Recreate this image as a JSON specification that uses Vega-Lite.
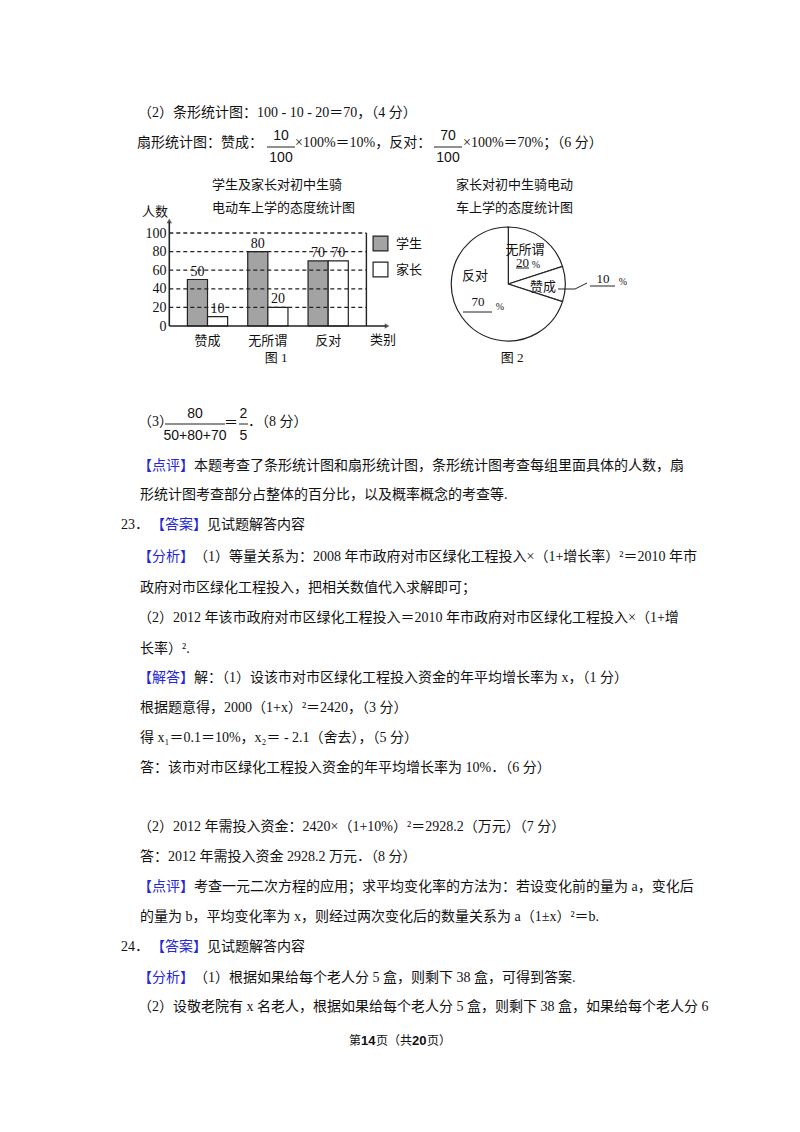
{
  "$schema": "https://vega.github.io/schema/vega-lite/v6.json",
  "width": 800,
  "height": 1132,
  "autosize": {"type": "fit", "contains": "padding"},
  "padding": 0,
  "background": "white",
  "config": {
    "view": {"stroke": null},
    "text": {"font": "Liberation Serif, Noto Sans CJK SC", "color": "#111111"}
  },
  "datasets": {
    "page": [
      {"role": "body", "x": 138, "y": 113, "text": "（2）条形统计图：100 - 10 - 20＝70，（4 分）"},
      {"role": "body", "x": 137, "y": 143, "text": "扇形统计图：赞成："},
      {"role": "body", "x": 295, "y": 143, "text": "×100%＝10%，反对："},
      {"role": "body", "x": 463, "y": 143, "text": "×100%＝70%；（6 分）"},
      {"role": "frac", "x": 281, "y": 136, "text": "10"},
      {"role": "frac", "x": 281, "y": 158, "text": "100"},
      {"role": "frac", "x": 448, "y": 136, "text": "70"},
      {"role": "frac", "x": 448, "y": 158, "text": "100"},
      {"role": "chart", "x": 212, "y": 185, "text": "学生及家长对初中生骑"},
      {"role": "chart", "x": 212, "y": 208, "text": "电动车上学的态度统计图"},
      {"role": "chart", "x": 456, "y": 185, "text": "家长对初中生骑电动"},
      {"role": "chart", "x": 456, "y": 208, "text": "车上学的态度统计图"},
      {"role": "chart", "x": 142, "y": 212, "text": "人数"},
      {"role": "chart", "x": 370, "y": 340, "text": "类别"},
      {"role": "chartc", "x": 276, "y": 358, "text": "图 1"},
      {"role": "chartc", "x": 512, "y": 358, "text": "图 2"},
      {"role": "chartc", "x": 475, "y": 276, "text": "反对"},
      {"role": "chartc", "x": 525, "y": 250, "text": "无所谓"},
      {"role": "chartc", "x": 543, "y": 287, "text": "赞成"},
      {"role": "chartc", "x": 522.5, "y": 263, "text": "20"},
      {"role": "chartc", "x": 478, "y": 302, "text": "70"},
      {"role": "chartc", "x": 603, "y": 279, "text": "10"},
      {"role": "pct", "x": 536, "y": 265, "text": "%"},
      {"role": "pct", "x": 500, "y": 307, "text": "%"},
      {"role": "pct", "x": 623, "y": 282, "text": "%"},
      {"role": "body", "x": 138, "y": 422, "text": "（3）"},
      {"role": "frac", "x": 195, "y": 414, "text": "80"},
      {"role": "frac", "x": 195, "y": 436, "text": "50+80+70"},
      {"role": "body", "x": 224, "y": 423, "text": "＝"},
      {"role": "frac", "x": 243.5, "y": 414, "text": "2"},
      {"role": "frac", "x": 243.5, "y": 436, "text": "5"},
      {"role": "body", "x": 248, "y": 422, "text": "．（8 分）"},
      {"role": "tag", "x": 138, "y": 466, "text": "【点评】"},
      {"role": "body", "x": 194, "y": 466, "text": "本题考查了条形统计图和扇形统计图，条形统计图考查每组里面具体的人数，扇"},
      {"role": "body", "x": 140, "y": 495, "text": "形统计图考查部分占整体的百分比，以及概率概念的考查等."},
      {"role": "body", "x": 121, "y": 525, "text": "23．"},
      {"role": "tag", "x": 151, "y": 525, "text": "【答案】"},
      {"role": "body", "x": 207, "y": 525, "text": "见试题解答内容"},
      {"role": "tag", "x": 138, "y": 557, "text": "【分析】"},
      {"role": "body", "x": 194, "y": 557, "text": "（1）等量关系为：2008 年市政府对市区绿化工程投入×（1+增长率）²＝2010 年市"},
      {"role": "body", "x": 140, "y": 588, "text": "政府对市区绿化工程投入，把相关数值代入求解即可；"},
      {"role": "body", "x": 138, "y": 618, "text": "（2）2012 年该市政府对市区绿化工程投入＝2010 年市政府对市区绿化工程投入×（1+增"},
      {"role": "body", "x": 140, "y": 649, "text": "长率）²."},
      {"role": "tag", "x": 138, "y": 678, "text": "【解答】"},
      {"role": "body", "x": 194, "y": 678, "text": "解：（1）设该市对市区绿化工程投入资金的年平均增长率为 x，（1 分）"},
      {"role": "body", "x": 140, "y": 708, "text": "根据题意得，2000（1+x）²＝2420，（3 分）"},
      {"role": "body", "x": 140, "y": 738, "text": "得 x₁＝0.1＝10%，x₂＝ - 2.1（舍去），（5 分）"},
      {"role": "body", "x": 140, "y": 768, "text": "答：该市对市区绿化工程投入资金的年平均增长率为 10%．（6 分）"},
      {"role": "body", "x": 138, "y": 827, "text": "（2）2012 年需投入资金：2420×（1+10%）²＝2928.2（万元）（7 分）"},
      {"role": "body", "x": 140, "y": 857, "text": "答：2012 年需投入资金 2928.2 万元．（8 分）"},
      {"role": "tag", "x": 138, "y": 887, "text": "【点评】"},
      {"role": "body", "x": 194, "y": 887, "text": "考查一元二次方程的应用；求平均变化率的方法为：若设变化前的量为 a，变化后"},
      {"role": "body", "x": 140, "y": 917, "text": "的量为 b，平均变化率为 x，则经过两次变化后的数量关系为 a（1±x）²＝b."},
      {"role": "body", "x": 121, "y": 947, "text": "24．"},
      {"role": "tag", "x": 151, "y": 947, "text": "【答案】"},
      {"role": "body", "x": 207, "y": 947, "text": "见试题解答内容"},
      {"role": "tag", "x": 138, "y": 978, "text": "【分析】"},
      {"role": "body", "x": 194, "y": 978, "text": "（1）根据如果给每个老人分 5 盒，则剩下 38 盒，可得到答案."},
      {"role": "body", "x": 138, "y": 1007, "text": "（2）设敬老院有 x 名老人，根据如果给每个老人分 5 盒，则剩下 38 盒，如果给每个老人分 6"},
      {"role": "foot", "x": 349, "y": 1041, "text": "第"},
      {"role": "footb", "x": 361, "y": 1041, "text": "14"},
      {"role": "foot", "x": 376, "y": 1041, "text": "页（共"},
      {"role": "footb", "x": 412, "y": 1041, "text": "20"},
      {"role": "foot", "x": 427, "y": 1041, "text": "页）"}
    ],
    "rules": [
      {"x": 267, "x2": 295, "y": 147, "y2": 147},
      {"x": 434, "x2": 462, "y": 147, "y2": 147},
      {"x": 165, "x2": 225, "y": 424, "y2": 424},
      {"x": 239, "x2": 248, "y": 424, "y2": 424},
      {"x": 516, "x2": 529, "y": 268, "y2": 268},
      {"x": 463, "x2": 492, "y": 312, "y2": 312},
      {"x": 590, "x2": 615, "y": 286, "y2": 286},
      {"x": 558, "x2": 575, "y": 289, "y2": 289},
      {"x": 575, "x2": 587, "y": 289, "y2": 283}
    ],
    "pie": [
      {"attitude": "无所谓", "pct": 20},
      {"attitude": "赞成", "pct": 10},
      {"attitude": "反对", "pct": 70}
    ],
    "bars": [
      {"cat": "赞成", "grp": "学生", "n": 50},
      {"cat": "赞成", "grp": "家长", "n": 10},
      {"cat": "无所谓", "grp": "学生", "n": 80},
      {"cat": "无所谓", "grp": "家长", "n": 20},
      {"cat": "反对", "grp": "学生", "n": 70},
      {"cat": "反对", "grp": "家长", "n": 70}
    ],
    "grid": [{"v": 20}, {"v": 40}, {"v": 60}, {"v": 80}, {"v": 100}]
  },
  "layer": [
    {
      "layer": [
        {
          "data": {"name": "pie"},
          "mark": {"type": "arc", "radius": 57, "fill": "white", "stroke": "#222222", "strokeWidth": 1.2},
          "encoding": {
            "x": {"datum": 508.3, "type": "quantitative", "scale": {"domain": [0, 800], "nice": false, "zero": false}, "axis": null},
            "y": {"datum": 284, "type": "quantitative", "scale": {"domain": [0, 1132], "nice": false, "reverse": true}, "axis": null},
            "theta": {"field": "pct", "type": "quantitative", "stack": true}
          }
        },
        {
          "data": {"name": "page"},
          "transform": [{"filter": "datum.role == 'body' || datum.role == 'tag'"}],
          "mark": {"type": "text", "align": "left", "baseline": "middle", "fontSize": 14},
          "encoding": {
            "x": {"field": "x", "type": "quantitative", "scale": {"domain": [0, 800], "nice": false, "zero": false}, "axis": null},
            "y": {"field": "y", "type": "quantitative", "scale": {"domain": [0, 1132], "nice": false, "reverse": true}, "axis": null},
            "text": {"field": "text"},
            "color": {"field": "role", "type": "nominal", "scale": {"domain": ["body", "tag"], "range": ["#111111", "#2525d9"]}, "legend": null}
          }
        },
        {
          "data": {"name": "page"},
          "transform": [{"filter": "datum.role == 'frac'"}],
          "mark": {"type": "text", "align": "center", "baseline": "middle", "fontSize": 14, "font": "Liberation Sans"},
          "encoding": {
            "x": {"field": "x", "type": "quantitative", "scale": {"domain": [0, 800], "nice": false, "zero": false}, "axis": null},
            "y": {"field": "y", "type": "quantitative", "scale": {"domain": [0, 1132], "nice": false, "reverse": true}, "axis": null},
            "text": {"field": "text"}
          }
        },
        {
          "data": {"name": "page"},
          "transform": [{"filter": "datum.role == 'chart'"}],
          "mark": {"type": "text", "align": "left", "baseline": "middle", "fontSize": 13},
          "encoding": {
            "x": {"field": "x", "type": "quantitative", "scale": {"domain": [0, 800], "nice": false, "zero": false}, "axis": null},
            "y": {"field": "y", "type": "quantitative", "scale": {"domain": [0, 1132], "nice": false, "reverse": true}, "axis": null},
            "text": {"field": "text"}
          }
        },
        {
          "data": {"name": "page"},
          "transform": [{"filter": "datum.role == 'chartc'"}],
          "mark": {"type": "text", "align": "center", "baseline": "middle", "fontSize": 13},
          "encoding": {
            "x": {"field": "x", "type": "quantitative", "scale": {"domain": [0, 800], "nice": false, "zero": false}, "axis": null},
            "y": {"field": "y", "type": "quantitative", "scale": {"domain": [0, 1132], "nice": false, "reverse": true}, "axis": null},
            "text": {"field": "text"}
          }
        },
        {
          "data": {"name": "page"},
          "transform": [{"filter": "datum.role == 'pct'"}],
          "mark": {"type": "text", "align": "center", "baseline": "middle", "fontSize": 10},
          "encoding": {
            "x": {"field": "x", "type": "quantitative", "scale": {"domain": [0, 800], "nice": false, "zero": false}, "axis": null},
            "y": {"field": "y", "type": "quantitative", "scale": {"domain": [0, 1132], "nice": false, "reverse": true}, "axis": null},
            "text": {"field": "text"}
          }
        },
        {
          "data": {"name": "page"},
          "transform": [{"filter": "datum.role == 'foot'"}],
          "mark": {"type": "text", "align": "left", "baseline": "middle", "fontSize": 12},
          "encoding": {
            "x": {"field": "x", "type": "quantitative", "scale": {"domain": [0, 800], "nice": false, "zero": false}, "axis": null},
            "y": {"field": "y", "type": "quantitative", "scale": {"domain": [0, 1132], "nice": false, "reverse": true}, "axis": null},
            "text": {"field": "text"}
          }
        },
        {
          "data": {"name": "page"},
          "transform": [{"filter": "datum.role == 'footb'"}],
          "mark": {"type": "text", "align": "left", "baseline": "middle", "fontSize": 13, "font": "Liberation Sans", "fontWeight": "bold"},
          "encoding": {
            "x": {"field": "x", "type": "quantitative", "scale": {"domain": [0, 800], "nice": false, "zero": false}, "axis": null},
            "y": {"field": "y", "type": "quantitative", "scale": {"domain": [0, 1132], "nice": false, "reverse": true}, "axis": null},
            "text": {"field": "text"}
          }
        },
        {
          "data": {"name": "rules"},
          "mark": {"type": "rule", "color": "#222222", "strokeWidth": 1},
          "encoding": {
            "x": {"field": "x", "type": "quantitative", "scale": {"domain": [0, 800], "nice": false, "zero": false}, "axis": null},
            "x2": {"field": "x2"},
            "y": {"field": "y", "type": "quantitative", "scale": {"domain": [0, 1132], "nice": false, "reverse": true}, "axis": null},
            "y2": {"field": "y2"}
          }
        }
      ]
    },
    {
      "layer": [
        {
          "data": {"name": "bars"},
          "layer": [
            {
              "mark": {"type": "bar", "stroke": "#222222", "strokeWidth": 1.2},
              "encoding": {
                "x": {
                  "field": "cat", "type": "nominal",
                  "scale": {"domain": ["赞成", "无所谓", "反对"], "range": [169.3, 366.4], "paddingInner": 0.333, "paddingOuter": 0.3},
                  "axis": {"orient": "bottom", "offset": -806, "title": null, "domain": false, "ticks": false, "tickSize": 0, "labelPadding": 8, "labelAngle": 0, "labelFontSize": 13, "labelFont": "Noto Sans CJK SC", "labelColor": "#111111"}
                },
                "xOffset": {"field": "grp", "type": "nominal", "scale": {"domain": ["学生", "家长"]}},
                "y": {
                  "field": "n", "type": "quantitative", "title": null,
                  "scale": {"domain": [0, 100], "range": [326, 233], "nice": false},
                  "axis": {"orient": "left", "offset": -169, "values": [0, 20, 40, 60, 80, 100], "title": null, "domain": false, "ticks": false, "tickSize": 0, "grid": false, "labelPadding": 3, "labelFontSize": 14, "labelFont": "Liberation Serif", "labelColor": "#111111"}
                },
                "fill": {
                  "field": "grp", "type": "nominal",
                  "scale": {"domain": ["学生", "家长"], "range": ["#a3a3a3", "#ffffff"]},
                  "legend": {"orient": "none", "legendX": 372, "legendY": 235, "title": null, "padding": 0, "symbolType": "square", "symbolSize": 220, "symbolStrokeColor": "#222222", "symbolStrokeWidth": 1.2, "labelFontSize": 13, "labelFont": "Noto Sans CJK SC", "labelColor": "#111111", "labelOffset": 7, "rowPadding": 5}
                }
              }
            },
            {
              "mark": {"type": "text", "baseline": "middle", "dy": -8, "fontSize": 14},
              "encoding": {
                "x": {"field": "cat", "type": "nominal", "scale": {"domain": ["赞成", "无所谓", "反对"], "range": [169.3, 366.4], "paddingInner": 0.333, "paddingOuter": 0.3}},
                "xOffset": {"field": "grp", "type": "nominal", "scale": {"domain": ["学生", "家长"]}},
                "y": {"field": "n", "type": "quantitative", "title": null, "scale": {"domain": [0, 100], "range": [326, 233], "nice": false}},
                "text": {"field": "n"}
              }
            }
          ]
        },
        {
          "layer": [
            {
              "data": {"name": "grid"},
              "mark": {"type": "rule", "color": "#222222", "strokeWidth": 1.3, "strokeDash": [4, 3]},
              "encoding": {
                "x": {"datum": 0, "type": "quantitative", "scale": {"domain": [0, 1], "range": [169.3, 366.4], "nice": false, "zero": false}, "axis": null},
                "x2": {"datum": 1},
                "y": {"field": "v", "type": "quantitative", "title": null, "scale": {"domain": [0, 100], "range": [326, 233], "nice": false}}
              }
            },
            {
              "data": {"values": [{}]},
              "mark": {"type": "rule", "color": "#222222", "strokeWidth": 1.6},
              "encoding": {
                "x": {"datum": 0, "type": "quantitative", "scale": {"domain": [0, 1], "range": [169.3, 366.4], "nice": false, "zero": false}, "axis": null},
                "y": {"datum": 0, "type": "quantitative", "title": null, "scale": {"domain": [0, 100], "range": [326, 233], "nice": false}},
                "y2": {"datum": 112}
              }
            },
            {
              "data": {"values": [{}]},
              "mark": {"type": "rule", "color": "#222222", "strokeWidth": 1.6},
              "encoding": {
                "x": {"datum": 0, "type": "quantitative", "scale": {"domain": [0, 1], "range": [169.3, 366.4], "nice": false, "zero": false}, "axis": null},
                "x2": {"datum": 1.1},
                "y": {"datum": 0, "type": "quantitative", "title": null, "scale": {"domain": [0, 100], "range": [326, 233], "nice": false}}
              }
            },
            {
              "data": {"values": [{}]},
              "mark": {"type": "rule", "color": "#222222", "strokeWidth": 1.4},
              "encoding": {
                "x": {"datum": 1, "type": "quantitative", "scale": {"domain": [0, 1], "range": [169.3, 366.4], "nice": false, "zero": false}, "axis": null},
                "y": {"datum": 0, "type": "quantitative", "title": null, "scale": {"domain": [0, 100], "range": [326, 233], "nice": false}},
                "y2": {"datum": 100}
              }
            },
            {
              "data": {"values": [{}]},
              "mark": {"type": "point", "shape": "triangle-up", "size": 30, "filled": true, "color": "#222222"},
              "encoding": {
                "x": {"datum": 0, "type": "quantitative", "scale": {"domain": [0, 1], "range": [169.3, 366.4], "nice": false, "zero": false}, "axis": null},
                "y": {"datum": 113, "type": "quantitative", "title": null, "scale": {"domain": [0, 100], "range": [326, 233], "nice": false}}
              }
            },
            {
              "data": {"values": [{}]},
              "mark": {"type": "point", "shape": "triangle-right", "size": 30, "filled": true, "color": "#222222"},
              "encoding": {
                "x": {"datum": 1.105, "type": "quantitative", "scale": {"domain": [0, 1], "range": [169.3, 366.4], "nice": false, "zero": false}, "axis": null},
                "y": {"datum": 0, "type": "quantitative", "title": null, "scale": {"domain": [0, 100], "range": [326, 233], "nice": false}}
              }
            }
          ]
        }
      ],
      "resolve": {"scale": {"x": "independent"}, "axis": {"x": "independent"}}
    }
  ],
  "resolve": {
    "scale": {"x": "independent", "y": "independent", "color": "independent", "fill": "independent"},
    "axis": {"x": "independent", "y": "independent"}
  }
}
